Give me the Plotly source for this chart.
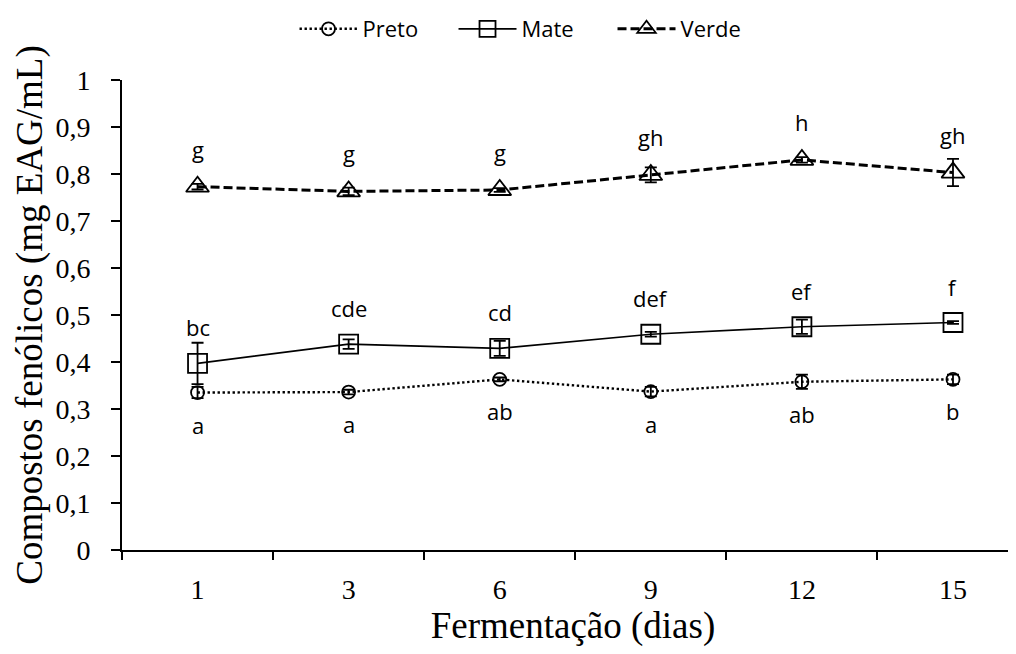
import plotly.graph_objects as go

dias = ["1", "3", "6", "9", "12", "15"]

preto = [0.335, 0.336, 0.363, 0.337, 0.358, 0.363]
preto_err = [0.012, 0.005, 0.004, 0.010, 0.015, 0.010]
preto_lab = ["a", "a", "ab", "a", "ab", "b"]

mate = [0.397, 0.438, 0.429, 0.459, 0.475, 0.484]
mate_err = [0.044, 0.010, 0.016, 0.005, 0.015, 0.003]
mate_lab = ["bc", "cde", "cd", "def", "ef", "f"]

verde = [0.773, 0.763, 0.766, 0.798, 0.830, 0.803]
verde_err = [0.006, 0.008, 0.004, 0.016, 0.006, 0.029]
verde_lab = ["g", "g", "g", "gh", "h", "gh"]

fig = go.Figure()

def add(name, y, err, dash, width, symbol, size):
    fig.add_trace(go.Scatter(
        x=dias, y=y, name=name, mode="lines+markers",
        line=dict(color="black", dash=dash, width=width),
        marker=dict(symbol=symbol, size=size, color="black", line=dict(width=1.8, color="black")),
        error_y=dict(type="data", array=err, visible=True, color="black", thickness=1.8, width=6),
    ))

add("Preto", preto, preto_err, "2.4px,2.6px", 2.4, "circle-open", 13)
add("Mate", mate, mate_err, "solid", 1.7, "square-open", 19)
add("Verde", verde, verde_err, "9px,4px", 3, "triangle-up-open", 20)

sans = "Open Sans, Noto Sans, sans-serif"
serif = "Liberation Serif, Times New Roman, serif"
lab_font = dict(family=sans, size=22, color="black")
for vals, labs, shift in [(verde, verde_lab, 38), (mate, mate_lab, 36), (preto, preto_lab, -32)]:
    for i, (yv, t) in enumerate(zip(vals, labs)):
        fig.add_annotation(x=i, y=yv, xref="x", yref="y", text=t, showarrow=False, yshift=shift,
                           font=lab_font, xanchor="center", yanchor="middle")

# the page body has an 8px margin, so the figure is offset by 8px; margins compensate
fig.update_layout(
    width=1016, height=654,
    margin=dict(l=114, r=0, t=72, b=112),
    plot_bgcolor="white", paper_bgcolor="white",
    separators=",.",
    showlegend=True,
    legend=dict(orientation="h", x=0.282, xanchor="left", y=1.0, yanchor="top",
                xref="container", yref="container", font=dict(family=sans, size=22, color="black"),
                itemwidth=58, entrywidth=86, entrywidthmode="pixels", bgcolor="rgba(0,0,0,0)"),
    xaxis=dict(
        type="category", range=[-0.5, 5.47], tickson="boundaries", automargin=False,
        showline=True, linecolor="black", linewidth=2, ticks="outside", ticklen=8, tickwidth=2,
        tickcolor="black", showgrid=False, zeroline=False,
        tickfont=dict(family=serif, size=28, color="black"),
        ticklabelstandoff=13,
        title=dict(text="Fermentação (dias)", standoff=9,
                   font=dict(family=serif, size=37, color="black")),
    ),
    yaxis=dict(
        range=[0, 1], dtick=0.1, tick0=0, automargin=False,
        showline=True, linecolor="black", linewidth=2, ticks="outside", ticklen=9, tickwidth=2,
        tickcolor="black", showgrid=False, zeroline=False,
        tickfont=dict(family=serif, size=28, color="black"),
        ticklabelstandoff=15,
        title=dict(text="Compostos fenólicos (mg EAG/mL)", standoff=1,
                   font=dict(family=serif, size=37, color="black")),
    ),
)

fig.write_html("out.html")
